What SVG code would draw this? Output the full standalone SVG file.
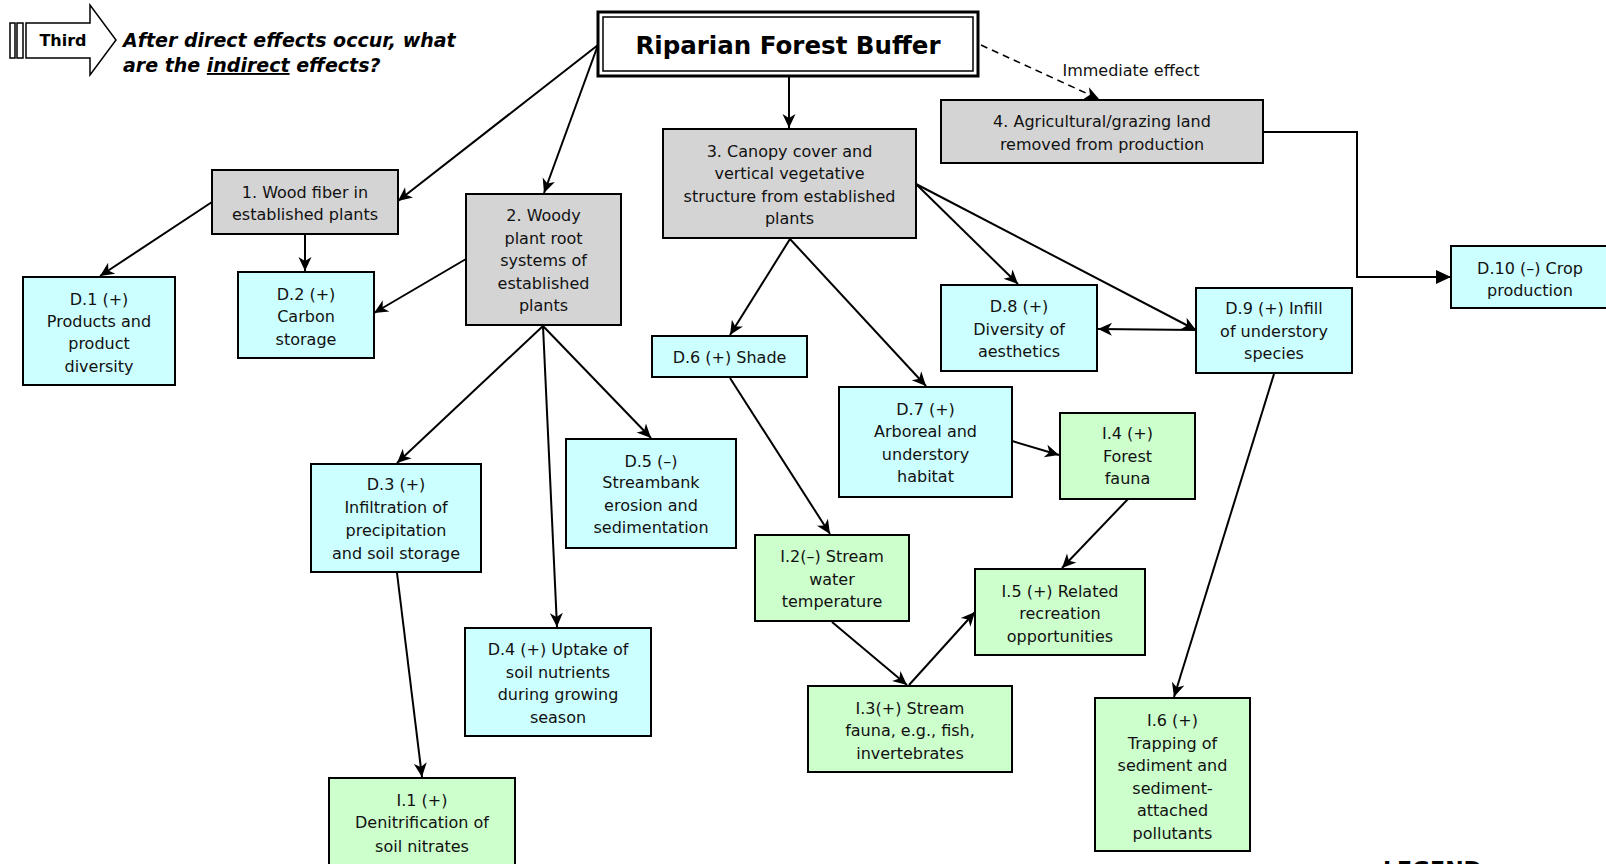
<svg xmlns="http://www.w3.org/2000/svg" width="1606" height="864" viewBox="0 0 1606 864">
  <style>
    .box { stroke: #000; stroke-width: 2; }
    .gray { fill: #D4D4D4; }
    .cyan { fill: #CCFFFF; }
    .green { fill: #CCFFCC; }
    .t { font-family: "DejaVu Sans", Verdana, sans-serif; font-size: 16px; fill: #111; text-anchor: middle; }
    .edge { stroke: #000; stroke-width: 2; fill: none; marker-end: url(#arrow); }
    .q { font-family: "DejaVu Sans", Verdana, sans-serif; font-size: 19px; font-weight: bold; font-style: italic; fill: #000; }
  </style>
  <defs>
    <marker id="arrow" viewBox="-15 -7 16 14" refX="0" refY="0" markerWidth="16" markerHeight="14" markerUnits="userSpaceOnUse" orient="auto">
      <path d="M0,0 L-14,-6.5 L-10,0 L-14,6.5 Z" fill="#000"/>
    </marker>
    <marker id="tri" viewBox="-15 -7 16 14" refX="0" refY="0" markerWidth="16" markerHeight="14" markerUnits="userSpaceOnUse" orient="auto">
      <path d="M0,0 L-15,-7 L-15,7 Z" fill="#000"/>
    </marker>
  </defs>

  <rect width="1606" height="864" fill="#fff"/>

  <!-- step banner -->
  <g id="step-banner">
    <rect x="10" y="23" width="5" height="35" fill="#fff" stroke="#000" stroke-width="1.5"/>
    <rect x="17" y="23" width="6" height="35" fill="#fff" stroke="#000" stroke-width="1.5"/>
    <path d="M26,23 L90,23 L90,5 L116,40 L90,75 L90,58 L26,58 Z" fill="#fff" stroke="#000" stroke-width="1.5"/>
    <text x="63" y="46" font-family="DejaVu Sans, Verdana, sans-serif" font-size="16" font-weight="bold" text-anchor="middle">Third</text>
    <text class="q" x="123" y="47">After direct effects occur, what</text>
    <text class="q" x="123" y="72">are the <tspan text-decoration="underline">indirect</tspan> effects?</text>
  </g>

  <!-- connectors -->
  <g id="connectors">
    <line class="edge" x1="598" y1="45" x2="398" y2="201"/>
    <line class="edge" x1="598" y1="45" x2="544" y2="193"/>
    <line class="edge" x1="789" y1="77" x2="789" y2="128"/>
    <line x1="981" y1="45" x2="1099" y2="99" stroke="#000" stroke-width="1.6" stroke-dasharray="7,5" fill="none" marker-end="url(#arrow)"/>
    <polyline points="1263,132 1357,132 1357,277 1451,277" stroke="#000" stroke-width="2" fill="none" marker-end="url(#tri)"/>
    <line class="edge" x1="212" y1="202" x2="100" y2="276"/>
    <line class="edge" x1="305" y1="234" x2="305" y2="271"/>
    <line class="edge" x1="466" y1="259" x2="374" y2="313"/>
    <line class="edge" x1="543" y1="326" x2="397" y2="463"/>
    <line class="edge" x1="543" y1="326" x2="557" y2="627"/>
    <line class="edge" x1="543" y1="326" x2="651" y2="438"/>
    <line class="edge" x1="790" y1="239" x2="730" y2="335"/>
    <line class="edge" x1="790" y1="239" x2="926" y2="386"/>
    <line class="edge" x1="916" y1="184" x2="1018" y2="284"/>
    <line class="edge" x1="916" y1="184" x2="1196" y2="330"/>
    <line class="edge" x1="1196" y1="330" x2="1098" y2="329"/>
    <line class="edge" x1="730" y1="378" x2="830" y2="534"/>
    <line class="edge" x1="1012" y1="441" x2="1059" y2="455"/>
    <line class="edge" x1="1128" y1="499" x2="1062" y2="568"/>
    <line class="edge" x1="1274" y1="374" x2="1174" y2="697"/>
    <line class="edge" x1="397" y1="573" x2="422" y2="777"/>
    <line class="edge" x1="832" y1="622" x2="907" y2="685"/>
    <line class="edge" x1="909" y1="685" x2="975" y2="612"/>
    <text class="t" x="1131" y="76">Immediate effect</text>
  </g>

  <!-- title -->
  <g id="title">
    <rect x="598" y="12" width="380" height="64" fill="#fff" stroke="#000" stroke-width="3"/>
    <rect x="603" y="17" width="370" height="54" fill="none" stroke="#000" stroke-width="1.5"/>
    <text x="788" y="54" font-family="DejaVu Sans, Verdana, sans-serif" font-size="24.5" font-weight="bold" text-anchor="middle">Riparian Forest Buffer</text>
  </g>

  <!-- primary components -->
  <g id="n1">
    <rect class="box gray" x="212" y="170" width="186" height="64"/>
    <text class="t"><tspan x="305" y="198">1. Wood fiber in</tspan><tspan x="305" y="220">established plants</tspan></text>
  </g>
  <g id="n2">
    <rect class="box gray" x="466" y="194" width="155" height="131"/>
    <text class="t"><tspan x="543.5" y="221">2. Woody</tspan><tspan x="543.5" y="244">plant root</tspan><tspan x="543.5" y="266">systems of</tspan><tspan x="543.5" y="289">established</tspan><tspan x="543.5" y="311">plants</tspan></text>
  </g>
  <g id="n3">
    <rect class="box gray" x="663" y="129" width="253" height="109"/>
    <text class="t"><tspan x="789.5" y="157">3. Canopy cover and</tspan><tspan x="789.5" y="179">vertical vegetative</tspan><tspan x="789.5" y="202">structure from established</tspan><tspan x="789.5" y="224">plants</tspan></text>
  </g>
  <g id="n4">
    <rect class="box gray" x="941" y="100" width="322" height="63"/>
    <text class="t"><tspan x="1102" y="127">4. Agricultural/grazing land</tspan><tspan x="1102" y="150">removed from production</tspan></text>
  </g>

  <!-- direct effects -->
  <g id="d1">
    <rect class="box cyan" x="23" y="277" width="152" height="108"/>
    <text class="t"><tspan x="99" y="305">D.1 (+)</tspan><tspan x="99" y="327">Products and</tspan><tspan x="99" y="349">product</tspan><tspan x="99" y="372">diversity</tspan></text>
  </g>
  <g id="d2">
    <rect class="box cyan" x="238" y="272" width="136" height="86"/>
    <text class="t"><tspan x="306" y="300">D.2 (+)</tspan><tspan x="306" y="322">Carbon</tspan><tspan x="306" y="345">storage</tspan></text>
  </g>
  <g id="d3">
    <rect class="box cyan" x="311" y="464" width="170" height="108"/>
    <text class="t"><tspan x="396" y="490">D.3 (+)</tspan><tspan x="396" y="513">Infiltration of</tspan><tspan x="396" y="536">precipitation</tspan><tspan x="396" y="559">and soil storage</tspan></text>
  </g>
  <g id="d4">
    <rect class="box cyan" x="465" y="628" width="186" height="108"/>
    <text class="t"><tspan x="558" y="655">D.4 (+) Uptake of</tspan><tspan x="558" y="678">soil nutrients</tspan><tspan x="558" y="700">during growing</tspan><tspan x="558" y="723">season</tspan></text>
  </g>
  <g id="d5">
    <rect class="box cyan" x="566" y="439" width="170" height="109"/>
    <text class="t"><tspan x="651" y="467">D.5 (–)</tspan><tspan x="651" y="488">Streambank</tspan><tspan x="651" y="511">erosion and</tspan><tspan x="651" y="533">sedimentation</tspan></text>
  </g>
  <g id="d6">
    <rect class="box cyan" x="652" y="336" width="155" height="41"/>
    <text class="t" x="729.5" y="363">D.6 (+) Shade</text>
  </g>
  <g id="d7">
    <rect class="box cyan" x="839" y="387" width="173" height="110"/>
    <text class="t"><tspan x="925.5" y="415">D.7 (+)</tspan><tspan x="925.5" y="437">Arboreal and</tspan><tspan x="925.5" y="460">understory</tspan><tspan x="925.5" y="482">habitat</tspan></text>
  </g>
  <g id="d8">
    <rect class="box cyan" x="941" y="285" width="156" height="86"/>
    <text class="t"><tspan x="1019" y="312">D.8 (+)</tspan><tspan x="1019" y="335">Diversity of</tspan><tspan x="1019" y="357">aesthetics</tspan></text>
  </g>
  <g id="d9">
    <rect class="box cyan" x="1196" y="288" width="156" height="85"/>
    <text class="t"><tspan x="1274" y="314">D.9 (+) Infill</tspan><tspan x="1274" y="337">of understory</tspan><tspan x="1274" y="359">species</tspan></text>
  </g>
  <g id="d10">
    <rect class="box cyan" x="1451" y="246" width="160" height="62"/>
    <text class="t"><tspan x="1530" y="274">D.10 (–) Crop</tspan><tspan x="1530" y="296">production</tspan></text>
  </g>

  <!-- indirect effects -->
  <g id="i1">
    <rect class="box green" x="329" y="778" width="186" height="100"/>
    <text class="t"><tspan x="422" y="806">I.1 (+)</tspan><tspan x="422" y="828">Denitrification of</tspan><tspan x="422" y="852">soil nitrates</tspan></text>
  </g>
  <g id="i2">
    <rect class="box green" x="755" y="535" width="154" height="86"/>
    <text class="t"><tspan x="832" y="562">I.2(–) Stream</tspan><tspan x="832" y="585">water</tspan><tspan x="832" y="607">temperature</tspan></text>
  </g>
  <g id="i3">
    <rect class="box green" x="808" y="686" width="204" height="86"/>
    <text class="t"><tspan x="910" y="714">I.3(+) Stream</tspan><tspan x="910" y="736">fauna, e.g., fish,</tspan><tspan x="910" y="759">invertebrates</tspan></text>
  </g>
  <g id="i4">
    <rect class="box green" x="1060" y="413" width="135" height="86"/>
    <text class="t"><tspan x="1127.5" y="439">I.4 (+)</tspan><tspan x="1127.5" y="462">Forest</tspan><tspan x="1127.5" y="484">fauna</tspan></text>
  </g>
  <g id="i5">
    <rect class="box green" x="975" y="569" width="170" height="86"/>
    <text class="t"><tspan x="1060" y="597">I.5 (+) Related</tspan><tspan x="1060" y="619">recreation</tspan><tspan x="1060" y="642">opportunities</tspan></text>
  </g>
  <g id="i6">
    <rect class="box green" x="1095" y="698" width="155" height="153"/>
    <text class="t"><tspan x="1172.5" y="726">I.6 (+)</tspan><tspan x="1172.5" y="749">Trapping of</tspan><tspan x="1172.5" y="771">sediment and</tspan><tspan x="1172.5" y="794">sediment-</tspan><tspan x="1172.5" y="816">attached</tspan><tspan x="1172.5" y="839">pollutants</tspan></text>
  </g>

  <!-- legend heading, running off the lower edge -->
  <text x="1383" y="877" font-family="DejaVu Sans, Verdana, sans-serif" font-size="22" font-weight="bold">LEGEND</text>
</svg>
